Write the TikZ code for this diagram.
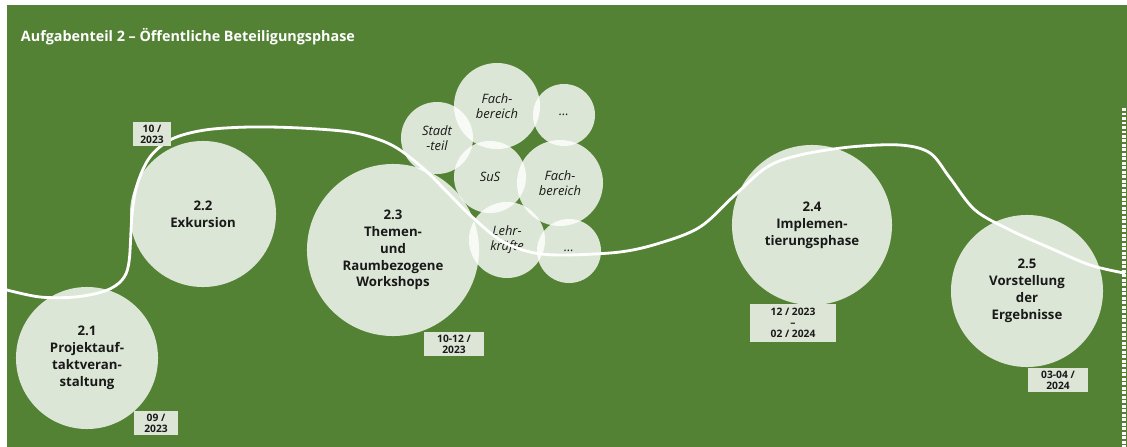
\documentclass[tikz,border=0pt]{standalone}
\usepackage{fontspec}
\setmainfont{Open Sans}
\usepackage{tikz}
\usetikzlibrary{positioning}
\definecolor{wiese}{RGB}{84,130,53}
\definecolor{blass}{RGB}{221,229,214}
\definecolor{schrift}{RGB}{25,25,25}
\tikzset{
	phase/.style={circle, fill=white, fill opacity=0.8, text opacity=1, text=schrift, inner sep=0pt, align=center, font=\fontsize{9.4}{12}\selectfont\bfseries},
	gruppe/.style={circle, fill=white, fill opacity=0.8, text opacity=1, text=schrift, inner sep=0pt, align=center, font=\fontsize{9.2}{10.8}\selectfont\itshape},
	datum/.style={rectangle, fill=blass, text=schrift, inner sep=0pt, align=center, font=\fontsize{7.3}{7.9}\selectfont\bfseries},
}
\begin{document}
\begin{tikzpicture}[x=0.025cm,y=-0.025cm]
	%% frame
	\useasboundingbox (0,0) rectangle (1127,447);
	\fill[wiese] (7,5) rectangle (1127,447);
	
	\node[anchor=base west, text=white, font=\fontsize{10.2}{12}\selectfont\bfseries] (titel) at (16,42) {Aufgabenteil 2 -- Öffentliche Beteiligungsphase};
	
	%% phases
	\node[phase, minimum size=3.55cm] (p21) at (87,358) {2.1\\Projektauf-\\taktveran-\\staltung};
	\node[phase, minimum size=3.65cm] (p22) at (203,214) {2.2\\Exkursion};
	\node[phase, minimum size=4.3cm] (p23) at (393,250) {2.3\\Themen-\\und\\Raumbezogene\\Workshops};
	\node[phase, minimum size=4.0cm] (p24) at (812,225) {2.4\\Implemen-\\tierungsphase};
	\node[phase, minimum size=3.8cm] (p25) at (1027,291) {2.5\\Vorstellung\\der\\Ergebnisse};
	
	%% groups of workshop 2.3
	\node[gruppe, minimum size=1.8cm] (stadt) at (437,138) {Stadt\\-teil};
	\node[gruppe, minimum size=2.15cm] (fachA) at (497,106) {Fach-\\bereich};
	\node[gruppe, minimum size=1.55cm] (weiterA) at (564,115) {\dots};
	\node[gruppe, minimum size=1.8cm] (sus) at (490,177) {SuS};
	\node[gruppe, minimum size=2.15cm] (fachB) at (560,183) {Fach-\\bereich};
	\node[gruppe, minimum size=1.9cm] (lehr) at (507,240) {Lehr-\\kräfte};
	\node[gruppe, minimum size=1.6cm] (weiterB) at (569,251) {\dots};
	
	%% time line
	\draw[white, line width=2pt, line cap=round] plot[smooth, tension=0.55] coordinates {
		(7,290) (40,297) (75,297) (105,291) (122,280) (129,262) (132,215) (137,185)
		(150,157) (172,139) (205,130) (250,127) (300,128) (350,132) (380,140) (400,150)
		(425,170) (450,195) (470,215) (500,240) (530,252) (563,255) (620,252) (660,243)
		(700,227) (735,195) (767,167) (800,155) (850,147) (900,145) (930,153) (950,178)
		(975,210) (1010,230) (1050,248) (1090,265) (1124,273)};
	\coordinate (rand oben) at (1124,108);
	\coordinate (rand unten) at (1124,447);
	\draw[white, line width=2.2pt, dash pattern=on 2pt off 1.2pt] (rand oben) -- (rand unten);
	
	%% dates
	\node[datum, minimum width=0.95cm, minimum height=0.6cm] (d22) at (152,134) {10 /\\2023};
	\node[datum, minimum width=1.075cm, minimum height=0.6cm] (d21) at (156,423) {09 /\\2023};
	\node[datum, minimum width=1.5cm, minimum height=0.575cm] (d23) at (454,344) {10-12 /\\2023};
	\node[datum, minimum width=2.125cm, minimum height=0.95cm] (d24) at (793,323) {12 / 2023\\--\\02 / 2024};
	\node[datum, minimum width=1.5cm, minimum height=0.575cm] (d25) at (1058,380) {03-04 /\\2024};
\end{tikzpicture}
\end{document}
